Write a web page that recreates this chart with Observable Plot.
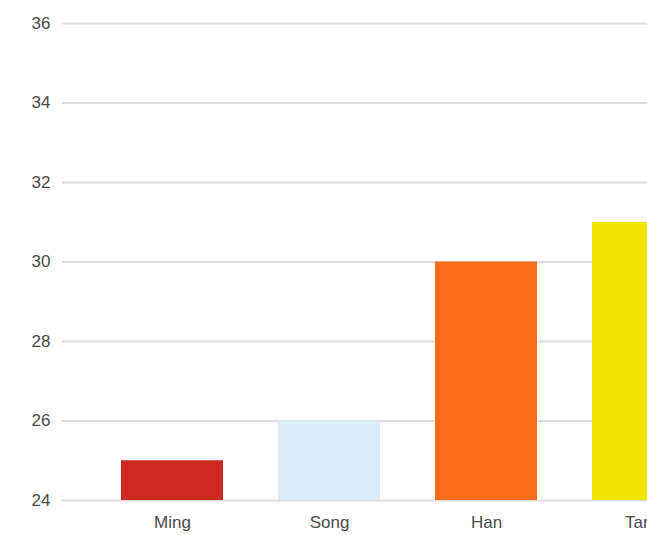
<!DOCTYPE html>
<html>
<head>
<meta charset="utf-8">
<script src="https://cdn.jsdelivr.net/npm/d3@7"></script>
<script src="https://cdn.jsdelivr.net/npm/@observablehq/plot@0.6"></script>
<style>
  html, body { margin: 0; padding: 0; background: #fff; overflow: hidden; }
  #chart { width: 647px; height: 535px; overflow: hidden; }
  #chart svg { display: block; max-width: none !important; height: 535px !important; }
</style>
</head>
<body>
<div id="chart"></div>
<script>
// Dynasties and their values
const dynasties = ["Ming", "Song", "Han", "Tang"];
const values = [25, 26, 30, 31];
const colors = ["#cc2a20", "#d8eefa", "#f96d1d", "#f1e600"];
const yTicks = [24, 26, 28, 30, 32, 34, 36];
const yMin = 24;
const yMax = 36;

const data = dynasties.map((name, i) => ({name, value: values[i], color: colors[i]}));

const chart = Plot.plot({
  width: 752,
  height: 535,
  marginLeft: 62,
  marginRight: 0,
  marginTop: 23,
  marginBottom: 35,
  style: {fontFamily: "'Liberation Sans', Arial, sans-serif", fontSize: "17px", color: "#4a4a4a", background: "#fff"},
  x: {domain: dynasties, paddingInner: 0.3516, paddingOuter: 0.369, label: null},
  y: {domain: [yMin, yMax], ticks: yTicks, label: null},
  marks: [
    Plot.gridY(yTicks, {stroke: "#dcdcdc", strokeOpacity: 1, strokeWidth: 2}),
    Plot.barY(data, {x: "name", y1: () => yMin, y2: "value", fill: "color"}),
    Plot.axisY({ticks: yTicks, tickSize: 0, tickPadding: 12, fontSize: 17, fill: "#4a4a4a"}),
    Plot.axisX({tickSize: 0, tickPadding: 15, fontSize: 17, fill: "#4a4a4a"})
  ]
});
document.getElementById("chart").appendChild(chart);
</script>
</body>
</html>
